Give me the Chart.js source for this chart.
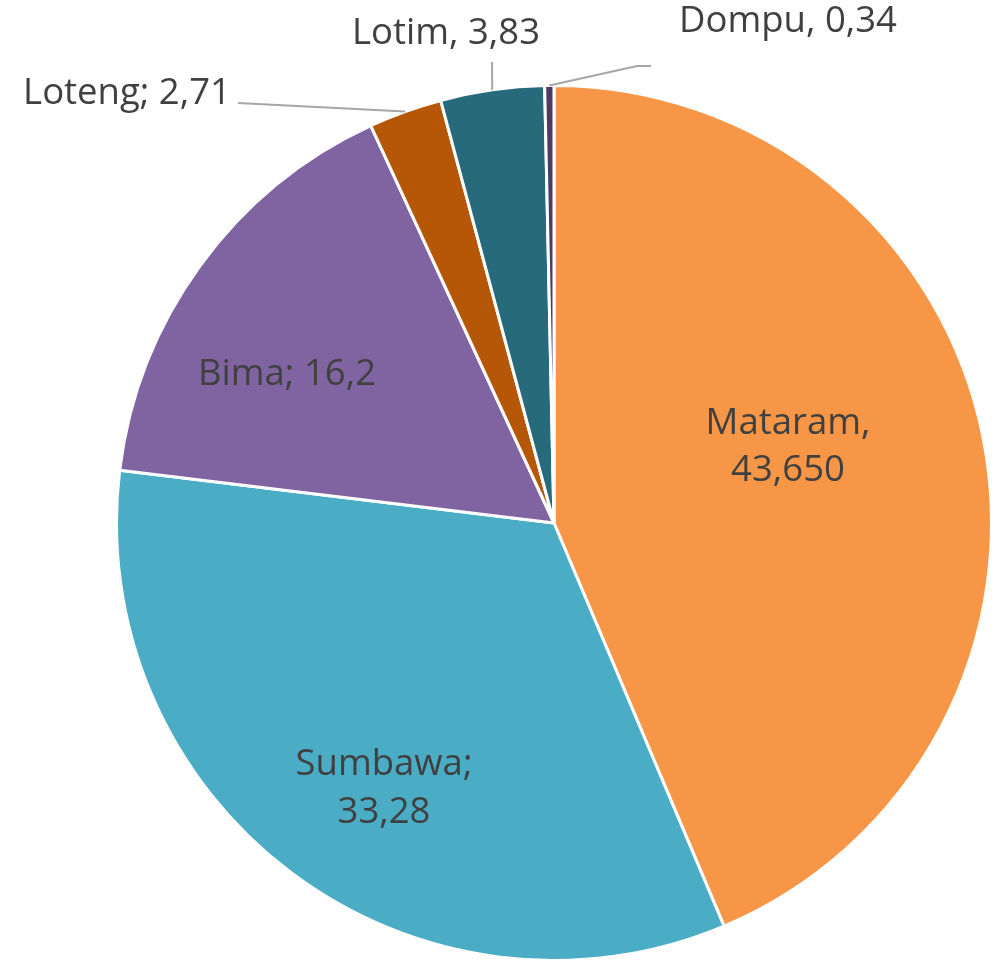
<!DOCTYPE html>
<html>
<head>
<meta charset="utf-8">
<script src="https://cdn.jsdelivr.net/npm/chart.js@4"></script>
<style>
  html, body { margin: 0; padding: 0; background: #fff; }
  #wrap { width: 998px; height: 962px; }
</style>
</head>
<body>
<div id="wrap"><canvas id="pie"></canvas></div>
<script>
const regions = ['Mataram', 'Sumbawa', 'Bima', 'Loteng', 'Lotim', 'Dompu'];
const shares = [43.65, 33.28, 16.2, 2.71, 3.83, 0.34];
const shareText = ['43,650', '33,28', '16,2', '2,71', '3,83', '0,34'];
const separators = [',', ';', ';', ';', ',', ','];
const colors = ['#F79646', '#4BACC6', '#8064A2', '#B65708', '#276A7C', '#4D3B62'];

// where each label sits (text centre) and for outside ones, the elbow of the leader line
const labelSpots = [
  { x: 788, y: [424, 471], lines: 2 },
  { x: 384, y: [765, 813], lines: 2 },
  { x: 287, y: [375], lines: 1 },
  { x: 127, y: [94], lines: 1, leader: [[238, 103]] },
  { x: 446, y: [34], lines: 1, leader: [[492, 62]] },
  { x: 788, y: [22], lines: 1, leader: [[637, 66], [651, 66]] }
];

const labelPlugin = {
  id: 'sliceLabels',
  afterDatasetsDraw(chart) {
    const ctx = chart.ctx;
    const arcs = chart.getDatasetMeta(0).data;
    ctx.save();
    ctx.font = '36.5px "Open Sans", sans-serif';
    ctx.fillStyle = '#404040';
    ctx.textAlign = 'center';
    ctx.textBaseline = 'middle';
    arcs.forEach((arc, i) => {
      const spot = labelSpots[i];
      if (spot.leader) {
        const p = arc.getProps(['x', 'y', 'startAngle', 'endAngle', 'outerRadius'], true);
        const mid = (p.startAngle + p.endAngle) / 2;
        ctx.beginPath();
        ctx.strokeStyle = '#A6A6A6';
        ctx.lineWidth = 2;
        ctx.moveTo(p.x + Math.cos(mid) * p.outerRadius, p.y + Math.sin(mid) * p.outerRadius);
        spot.leader.forEach(pt => ctx.lineTo(pt[0], pt[1]));
        ctx.stroke();
      }
      if (spot.lines === 2) {
        ctx.fillText(regions[i] + separators[i], spot.x, spot.y[0]);
        ctx.fillText(shareText[i], spot.x, spot.y[1]);
      } else {
        ctx.fillText(regions[i] + separators[i] + ' ' + shareText[i], spot.x, spot.y[0]);
      }
    });
    ctx.restore();
  }
};

new Chart(document.getElementById('pie'), {
  type: 'pie',
  data: {
    labels: regions,
    datasets: [{
      data: shares,
      backgroundColor: colors,
      borderColor: '#ffffff',
      borderWidth: 3
    }]
  },
  options: {
    responsive: true,
    maintainAspectRatio: false,
    animation: false,
    layout: { padding: { left: 115, right: 5, top: 84, bottom: 0 } },
    plugins: {
      legend: { display: false },
      tooltip: { enabled: false }
    }
  },
  plugins: [labelPlugin]
});
</script>
</body>
</html>
